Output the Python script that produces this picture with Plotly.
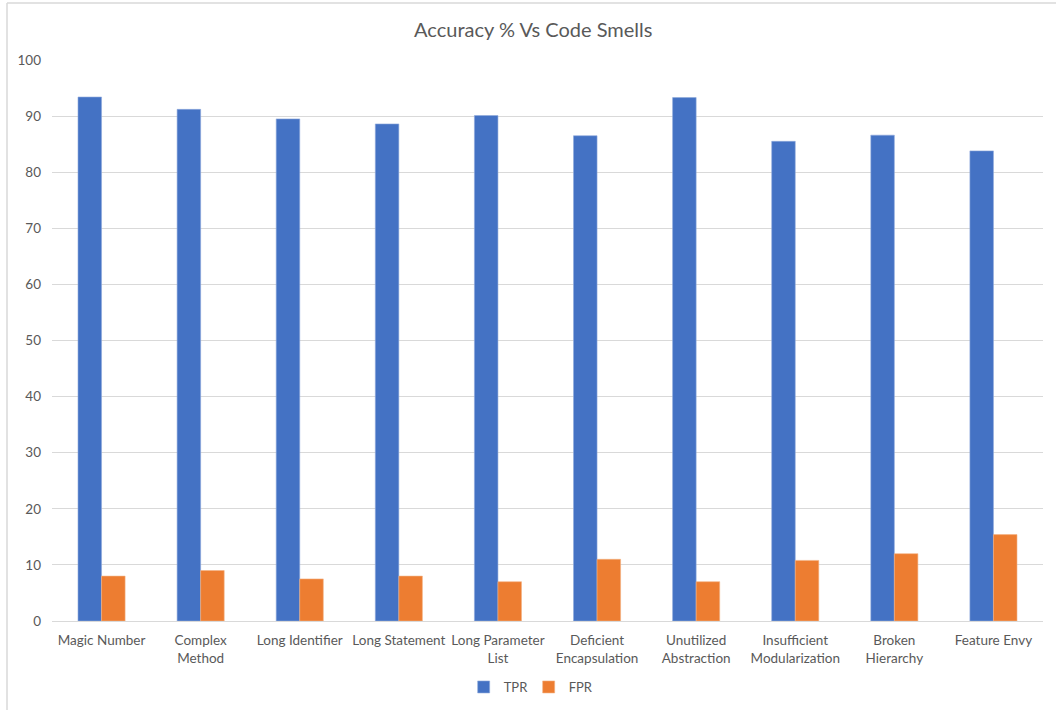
import plotly.graph_objects as go

categories = ["Magic Number", "Complex<br>Method", "Long Identifier", "Long Statement",
              "Long Parameter<br>List", "Deficient<br>Encapsulation", "Unutilized<br>Abstraction",
              "Insufficient<br>Modularization", "Broken<br>Hierarchy", "Feature Envy"]
tpr = [93.4, 91.2, 89.5, 88.6, 90.1, 86.5, 93.3, 85.5, 86.6, 83.8]
fpr = [8.0, 9.0, 7.5, 8.0, 7.0, 11.0, 7.0, 10.8, 12.0, 15.4]
y_ticks = list(range(0, 101, 10))

W, H = 1056, 710
ml, mr, mt, mb = 52, 13, 60, 89
pw, ph = W - ml - mr, H - mt - mb

fig = go.Figure()
fig.add_trace(go.Bar(name="TPR", x=categories, y=tpr, marker_color="#4472C4",
                     marker_line=dict(color="#8FAADC", width=0.6)))
fig.add_trace(go.Bar(name="FPR", x=categories, y=fpr, marker_color="#ED7D31",
                     marker_line=dict(color="#F4B183", width=0.6)))

font_family = "Lato, 'Open Sans', sans-serif"
gray = "#595959"

def px_x(p):
    return (p - ml) / pw

def px_y(p):
    return (H - mb - p) / ph

fig.update_layout(
    width=W, height=H,
    margin=dict(l=ml, r=mr, t=mt, b=mb, autoexpand=False),
    paper_bgcolor="white", plot_bgcolor="white",
    barmode="group", bargap=0.525, bargroupgap=0,
    font=dict(family=font_family, color=gray, size=13),
    title=dict(text="Accuracy % Vs Code Smells", x=0.505, xanchor="center",
               y=1 - 30 / H, yanchor="middle",
               font=dict(size=20, color=gray, family=font_family)),
    legend=dict(orientation="h", x=0.481, xanchor="center",
                y=1 - 687 / H, yanchor="middle", yref="container",
                font=dict(size=13, color=gray), itemwidth=30, entrywidth=20,
                traceorder="normal"),
    showlegend=True,
    shapes=[
        dict(type="line", xref="paper", yref="paper", x0=px_x(7), x1=px_x(1056),
             y0=px_y(3), y1=px_y(3), line=dict(color="#D9D9D9", width=1.5)),
        dict(type="line", xref="paper", yref="paper", x0=px_x(7), x1=px_x(7),
             y0=px_y(3), y1=px_y(710), line=dict(color="#D9D9D9", width=1.5)),
    ],
)
fig.update_xaxes(showline=True, linecolor="#D9D9D9", linewidth=1, ticks="",
                 tickfont=dict(size=13.5, color=gray), tickangle=0, showgrid=False,
                 ticklabelstandoff=7)
fig.update_yaxes(range=[0, 100], tickvals=y_ticks, showgrid=True, gridcolor="#D9D9D9",
                 gridwidth=1, zeroline=False, showline=False, ticks="",
                 tickfont=dict(size=13.5, color=gray), ticklabelstandoff=10)

fig.write_html("out.html")
